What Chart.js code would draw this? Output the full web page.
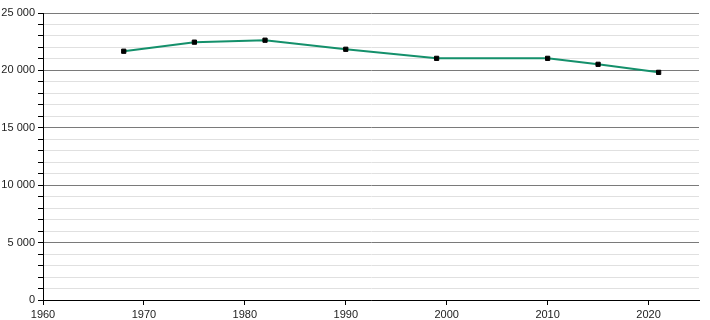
<!DOCTYPE html>
<html>
<head>
<meta charset="utf-8">
<script src="https://cdn.jsdelivr.net/npm/chart.js@4/dist/chart.umd.min.js"></script>
<style>
  html, body { margin: 0; padding: 0; background: #fff; }
  #wrap { width: 710px; height: 320px; }
</style>
</head>
<body>
<div id="wrap"><canvas id="c" width="710" height="320"></canvas></div>
<script>
const years = [1968, 1975, 1982, 1990, 1999, 2010, 2015, 2021];
const population = [21670, 22460, 22630, 21840, 21050, 21050, 20530, 19830];
const xTickYears = [1960, 1970, 1980, 1990, 2000, 2010, 2020];

const fmt = v => String(v).replace(/\B(?=(\d{3})+(?!\d))/g, '\u00a0');

const points = years.map((y, i) => ({ x: y, y: population[i] }));

new Chart(document.getElementById('c'), {
  type: 'line',
  data: {
    datasets: [{
      data: points,
      borderColor: '#14906b',
      borderWidth: 2,
      tension: 0,
      pointStyle: 'rect',
      pointRadius: 3,
      pointBackgroundColor: '#000',
      pointBorderColor: '#000',
      pointBorderWidth: 1,
      fill: false
    }]
  },
  options: {
    responsive: false,
    animation: false,
    events: [],
    layout: { padding: { left: 0, right: 11, top: 13, bottom: 0 } },
    plugins: { legend: { display: false }, tooltip: { enabled: false } },
    scales: {
      x: {
        type: 'linear',
        min: 1960,
        max: 2025,
        afterBuildTicks: s => { s.ticks = xTickYears.map(v => ({ value: v })); },
        afterFit: s => { s.height = 20; },
        ticks: {
          callback: v => String(v),
          color: '#222',
          font: { family: 'Liberation Sans, Arial, sans-serif', size: 11 },
          padding: 3,
          maxRotation: 0,
          autoSkip: false
        },
        grid: { drawOnChartArea: false, tickColor: '#000', tickLength: 5 },
        border: { color: '#000', width: 1 }
      },
      y: {
        type: 'linear',
        min: 0,
        max: 25000,
        afterFit: s => { s.width = 43; },
        ticks: {
          stepSize: 1000,
          autoSkip: false,
          callback: v => (v % 5000 === 0 ? fmt(v) : ''),
          color: '#222',
          font: { family: 'Liberation Sans, Arial, sans-serif', size: 11 },
          padding: 3
        },
        grid: {
          color: ctx => (ctx.tick && ctx.tick.value % 5000 === 0 ? '#7a7a7a' : '#e0e0e0'),
          lineWidth: 1,
          tickColor: '#000',
          tickLength: 5
        },
        border: { color: '#000', width: 1 }
      }
    }
  }
});
</script>
</body>
</html>
